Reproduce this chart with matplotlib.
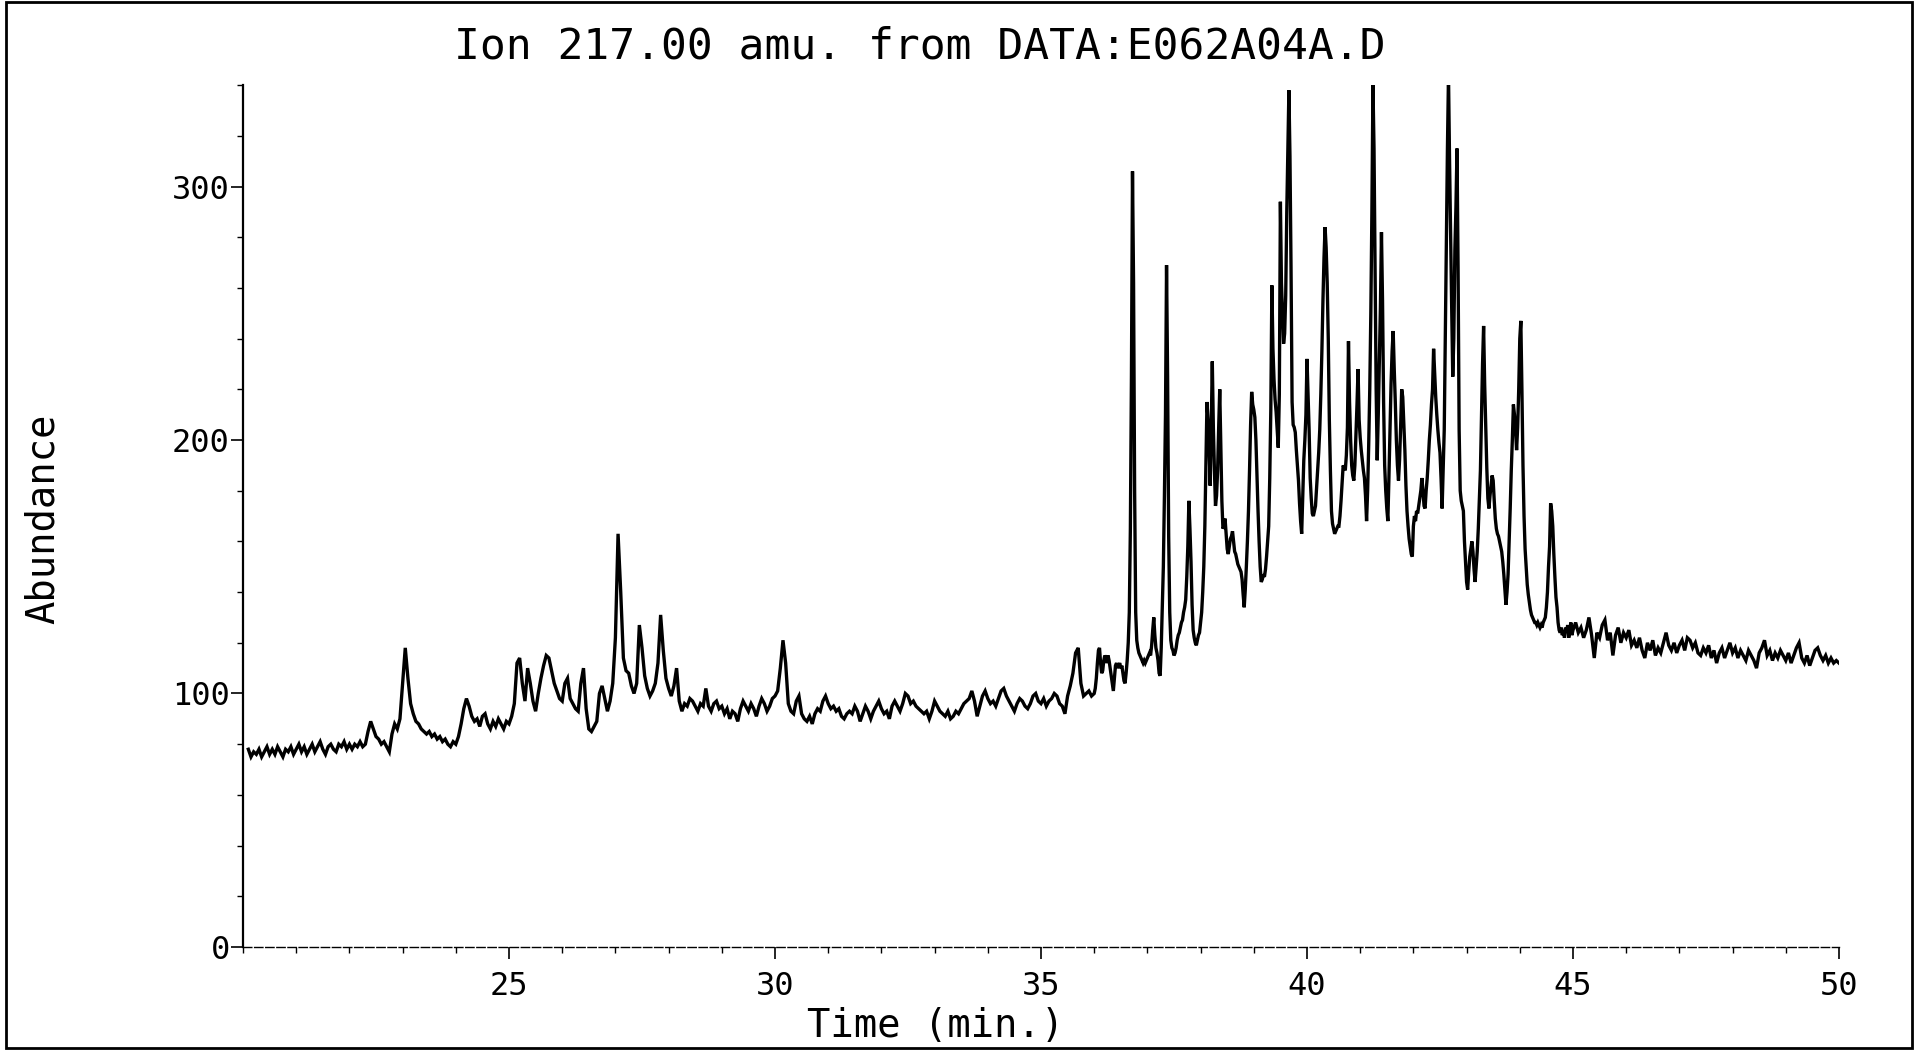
import numpy as np
import matplotlib
matplotlib.use("Agg")
import matplotlib.pyplot as plt
from matplotlib.patches import Rectangle
from matplotlib.ticker import MultipleLocator

# Extracted ion chromatogram, m/z 217. Abundance against retention time (min).
# Every row holds readings spread evenly from its start time up to the next start.

early_starts = [20.1, 21, 22, 23, 24, 25, 26, 27, 28, 29, 30, 31, 32, 33, 34, 35]
early_abund = [
    [78, 75, 77, 76, 78, 75, 77, 79, 76, 78, 76, 79, 77, 75, 78, 77, 79, 76],
    [78, 80, 77, 79, 76, 78, 80, 77, 79, 81, 78, 76, 79, 80, 78, 77, 80, 79, 81, 78],
    [80, 78, 80, 79, 81, 79, 80, 85, 89, 86, 83, 82, 80, 81, 79, 77, 84, 88, 86, 90],
    [104, 118, 106, 96, 92, 89, 88, 86, 85, 84, 85, 83, 84, 82, 83, 81, 82, 80, 79, 81],
    [80, 83, 88, 94, 98, 95, 91, 89, 90, 87, 91, 92, 88, 86, 89, 87, 90, 88, 86, 89],
    [88, 91, 96, 112, 114, 104, 97, 110, 104, 97, 93, 100, 106, 111, 115, 114, 109, 104, 101, 98],
    [97, 104, 106, 98, 96, 94, 93, 104, 110, 94, 86, 85, 87, 89, 100, 103, 98, 93, 97, 104],
    [122, 163, 140, 114, 109, 108, 103, 100, 104, 127, 118, 107, 102, 99, 101, 104, 112, 131, 117, 106],
    [102, 99, 103, 110, 97, 93, 96, 95, 98, 97, 95, 93, 96, 95, 102, 95, 93, 96, 97, 94],
    [95, 92, 94, 90, 93, 92, 89, 94, 97, 95, 93, 96, 94, 91, 95, 98, 96, 93, 95, 98],
    [99, 101, 110, 121, 112, 96, 93, 92, 97, 99, 92, 90, 89, 91, 88, 92, 94, 93, 97, 99],
    [96, 94, 95, 93, 94, 91, 90, 92, 93, 92, 95, 93, 89, 92, 95, 93, 90, 93, 95, 97],
    [94, 92, 93, 90, 95, 97, 95, 93, 96, 100, 99, 96, 97, 95, 94, 93, 92, 93, 90, 93],
    [97, 95, 93, 92, 91, 93, 90, 91, 93, 92, 94, 96, 97, 98, 101, 97, 91, 95, 99, 101],
    [98, 96, 97, 95, 98, 101, 102, 99, 97, 95, 93, 96, 98, 97, 95, 94, 96, 99, 100, 97],
    [96, 98, 95, 97, 98, 100, 99, 96, 95, 92, 99, 103, 108, 116, 118, 104, 99, 100, 101, 99],
]

cluster_starts = [36, 37, 38, 39, 40, 41, 42, 43, 44]
cluster_abund = [
    [100, 102, 106, 112, 117, 118, 112, 108, 109, 113,
     115, 114, 112, 115, 113, 110, 107, 104, 101, 106,
     111, 112, 110, 111, 112, 110, 111, 108, 105, 104,
     108, 113, 120, 132, 165, 225, 306, 262, 180, 132,
     121, 118, 116, 115, 114, 113, 112, 113, 112, 113],
    [114, 115, 116, 115, 119, 125, 130, 123, 118, 116,
     113, 108, 107, 118, 134, 150, 178, 210, 269, 225,
     162, 132, 121, 118, 117, 115, 116, 118, 121, 123,
     124, 126, 128, 129, 132, 134, 137, 146, 158, 176,
     165, 152, 135, 125, 122, 120, 119, 121, 123, 124],
    [128, 132, 140, 150, 166, 190, 215, 208, 198, 182,
     205, 231, 205, 188, 174, 178, 188, 205, 220, 198,
     176, 165, 166, 169, 163, 157, 155, 158, 161, 162,
     164, 160, 156, 155, 153, 151, 150, 149, 148, 145,
     139, 134, 141, 150, 160, 172, 188, 206, 219, 214],
    [212, 209, 200, 186, 172, 160, 150, 144, 145, 147,
     146, 149, 154, 160, 166, 185, 212, 261, 236, 224,
     216, 211, 204, 197, 218, 294, 262, 250, 238, 242,
     257, 290, 315, 338, 312, 268, 215, 206, 205, 203,
     196, 190, 184, 175, 168, 163, 178, 192, 200, 210],
    [232, 218, 204, 185, 177, 171, 170, 172, 174, 181,
     188, 195, 204, 218, 235, 255, 272, 284, 276, 262,
     240, 208, 188, 172, 167, 165, 163, 164, 165, 166,
     166, 170, 176, 183, 190, 189, 188, 194, 205, 239,
     215, 200, 190, 186, 184, 190, 202, 214, 228, 208],
    [201, 196, 192, 188, 185, 178, 168, 180, 198, 220,
     250, 290, 340, 315, 268, 220, 192, 210, 232, 252,
     282, 255, 215, 190, 180, 173, 168, 185, 204, 222,
     235, 243, 228, 215, 200, 190, 184, 192, 205, 220,
     217, 207, 196, 182, 172, 166, 161, 158, 155, 154],
    [166, 170, 168, 172, 171, 174, 177, 180, 185, 180,
     174, 173, 180, 185, 192, 200, 206, 214, 220, 236,
     226, 217, 210, 204, 199, 195, 185, 173, 188, 204,
     240, 275, 315, 344, 310, 280, 252, 225, 240, 275,
     292, 315, 268, 204, 180, 176, 174, 172, 160, 152],
    [144, 141, 148, 154, 157, 160, 156, 149, 144, 150,
     156, 165, 176, 188, 210, 230, 245, 222, 205, 189,
     177, 173, 178, 182, 186, 184, 176, 169, 165, 163,
     162, 160, 158, 156, 152, 147, 141, 135, 140, 147,
     160, 173, 188, 200, 214, 210, 204, 196, 205, 220],
    [240, 247, 220, 190, 170, 157, 150, 143, 139, 136,
     133, 131, 130, 129, 128, 128, 127, 128, 127, 126,
     127, 126, 128, 129, 130, 134, 140, 150, 158, 175,
     172, 166, 155, 146, 138, 134, 128, 125, 124, 126,
     123, 125, 122, 126, 124, 127, 122, 125, 128, 123],
]

late_starts = [45, 46, 47, 48, 49]
late_abund = [
    [125, 128, 124, 126, 122, 125, 130, 123, 114, 124, 122, 127, 129, 121, 124, 115, 123, 126, 120, 124],
    [122, 125, 119, 121, 118, 122, 117, 114, 120, 117, 121, 115, 118, 116, 120, 124, 119, 117, 120, 116],
    [119, 121, 117, 122, 121, 118, 120, 116, 115, 118, 116, 119, 114, 117, 112, 116, 118, 114, 117, 120],
    [116, 118, 114, 117, 115, 113, 117, 115, 113, 110, 116, 118, 121, 115, 117, 113, 116, 114, 117, 115],
    [113, 116, 112, 115, 118, 120, 114, 112, 115, 111, 114, 117, 118, 115, 113, 115, 112, 114, 112, 113],
]
end_time, end_abund = 50.0, 112

x_major = [25, 30, 35, 40, 45, 50]
y_major = [0, 100, 200, 300]
title = "Ion 217.00 amu. from DATA:E062A04A.D"
mono = "DejaVu Sans Mono"


def unroll(starts, rows, stop):
    ''' Spread each row of readings evenly between its start and the next. '''
    edges = list(starts) + [stop]
    t, a = [], []
    for lo, hi, row in zip(edges[:-1], edges[1:], rows):
        t.extend(np.linspace(lo, hi, len(row), endpoint=False))
        a.extend(row)
    return t, a


t1, a1 = unroll(early_starts, early_abund, 36)
t2, a2 = unroll(cluster_starts, cluster_abund, 45)
t3, a3 = unroll(late_starts, late_abund, end_time)
time = np.concatenate([t1, t2, t3, [end_time]])
abund = np.concatenate([a1, a2, a3, [end_abund]])

fig = plt.figure(figsize=(19.15, 10.55), dpi=100)
ax = fig.add_axes([0.1269, 0.1024, 0.8334, 0.8169])

ax.plot(time, abund, color="black", lw=2.4, solid_joinstyle="miter")

ax.set_xlim(20, 50)
ax.set_ylim(0, 340)
ax.set_xticks(x_major)
ax.set_yticks(y_major)
ax.xaxis.set_minor_locator(MultipleLocator(1))
ax.yaxis.set_minor_locator(MultipleLocator(20))
ax.tick_params(which="major", direction="out", length=8.5, width=1.2, color="black")
ax.tick_params(which="minor", direction="out", length=4, width=1.0, color="black")
ax.tick_params(axis="x", which="major", pad=9, labelsize=23)
ax.tick_params(axis="y", which="major", pad=1, labelsize=23)
for lab in ax.get_xticklabels() + ax.get_yticklabels():
    lab.set_family(mono)

for side in ("top", "right"):
    ax.spines[side].set_visible(False)
ax.spines["left"].set_linewidth(1.6)
ax.spines["bottom"].set_linewidth(1.0)
ax.spines["bottom"].set_linestyle((0, (6, 2)))

ax.set_title(title, family=mono, fontsize=31, x=0.424, y=1.035, va="center")
ax.set_xlabel("Time (min.)", family=mono, fontsize=28)
ax.xaxis.set_label_coords(0.434, -0.0917)
ax.xaxis.label.set_va("center")
ax.set_ylabel("Abundance", family=mono, fontsize=28)
ax.yaxis.label.set(va="center", rotation_mode="default")
ax.yaxis.set_label_coords(-0.1253, 0.4965)

# page frame of the printout
fig.add_artist(Rectangle((0.003, 0.0066), 0.9953, 0.9915, transform=fig.transFigure,
                         fill=False, lw=2.0, edgecolor="black"))

fig.savefig("out.png", dpi=100, facecolor="white")
